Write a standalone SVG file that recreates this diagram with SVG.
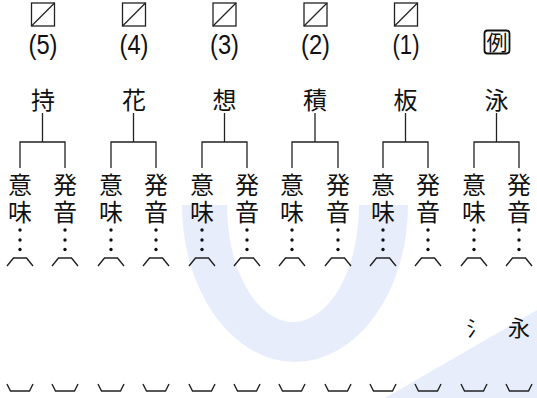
<svg xmlns="http://www.w3.org/2000/svg" width="537" height="398" viewBox="0 0 537 398">
<style>
.wm{fill:#e8edfb;stroke:none}
.num{font-family:"Liberation Sans",Arial,sans-serif;font-size:27px;fill:#111;text-anchor:middle}
.kj{font-family:"Noto Sans CJK JP",sans-serif;font-size:24px;fill:#111;text-anchor:middle}
.v{font-family:"Noto Sans CJK JP",sans-serif;font-size:24px;fill:#111;writing-mode:vertical-rl;text-anchor:start;letter-spacing:3px}
.ln{fill:none;stroke:#222;stroke-width:1.3}
.br{fill:none;stroke:#222;stroke-width:1.4;stroke-linejoin:miter}
.dot{fill:#111}
</style>
<defs>
<g id="box"><rect x="-11.5" y="0" width="23" height="23" class="ln"/><line x1="-11.5" y1="23" x2="11.5" y2="0" class="ln"/></g>
<g id="topbr"><path d="M-13,266 L-6.5,258 L6.5,258 L13,266" class="br"/></g>
<g id="botbr"><path d="M-13,384 L-9.5,391 L9.5,391 L13,384" class="br"/></g>
<g id="dots"><circle cx="0" cy="230" r="1.7" class="dot"/><circle cx="0" cy="240" r="1.7" class="dot"/><circle cx="0" cy="249.5" r="1.7" class="dot"/></g>
</defs>
<g id="watermark">
<path class="wm" d="M182,205 A113,157 0 0 0 408,205 L359,205 A66,117 0 0 1 227,205 Z"/>
<path class="wm" d="M385,398 L537,310 L537,398 Z"/>
</g>
<g id="connectors">
<path class="ln" d="M42.5,113 V142 M20,168 V142 H65 V168"/>
<path class="ln" d="M133.5,113 V142 M111,168 V142 H156 V168"/>
<path class="ln" d="M224.5,113 V142 M202,168 V142 H247 V168"/>
<path class="ln" d="M315,113 V142 M292,168 V142 H338 V168"/>
<path class="ln" d="M405.5,113 V142 M383,168 V142 H428 V168"/>
<path class="ln" d="M496.5,113 V142 M474,168 V142 H519 V168"/>
</g>
<g id="q5">
<use href="#box" x="43" y="3"/>
<text class="num" x="43" y="54" textLength="29" lengthAdjust="spacingAndGlyphs">(5)</text>
<text class="kj" x="43" y="109">持</text>
<text class="v" x="20" y="173">意味</text>
<text class="v" x="65" y="173">発音</text>
<use href="#dots" x="20"/><use href="#dots" x="65"/>
<use href="#topbr" x="20"/><use href="#topbr" x="65"/>
<use href="#botbr" x="20"/><use href="#botbr" x="65"/>
</g>
<g id="q4">
<use href="#box" x="134" y="3"/>
<text class="num" x="134" y="54" textLength="29" lengthAdjust="spacingAndGlyphs">(4)</text>
<text class="kj" x="134" y="109">花</text>
<text class="v" x="111" y="173">意味</text>
<text class="v" x="156" y="173">発音</text>
<use href="#dots" x="111"/><use href="#dots" x="156"/>
<use href="#topbr" x="111"/><use href="#topbr" x="156"/>
<use href="#botbr" x="111"/><use href="#botbr" x="156"/>
</g>
<g id="q3">
<use href="#box" x="224.5" y="3"/>
<text class="num" x="224.5" y="54" textLength="29" lengthAdjust="spacingAndGlyphs">(3)</text>
<text class="kj" x="224.5" y="109">想</text>
<text class="v" x="202" y="173">意味</text>
<text class="v" x="247" y="173">発音</text>
<use href="#dots" x="202"/><use href="#dots" x="247"/>
<use href="#topbr" x="202"/><use href="#topbr" x="247"/>
<use href="#botbr" x="202"/><use href="#botbr" x="247"/>
</g>
<g id="q2">
<use href="#box" x="315.5" y="3"/>
<text class="num" x="315.5" y="54" textLength="29" lengthAdjust="spacingAndGlyphs">(2)</text>
<text class="kj" x="315" y="109">積</text>
<text class="v" x="292" y="173">意味</text>
<text class="v" x="338" y="173">発音</text>
<use href="#dots" x="292"/><use href="#dots" x="338"/>
<use href="#topbr" x="292"/><use href="#topbr" x="338"/>
<use href="#botbr" x="292"/><use href="#botbr" x="338"/>
</g>
<g id="q1">
<use href="#box" x="406" y="3"/>
<text class="num" x="406" y="54" textLength="27" lengthAdjust="spacingAndGlyphs">(1)</text>
<text class="kj" x="405.5" y="109">板</text>
<text class="v" x="383" y="173">意味</text>
<text class="v" x="428" y="173">発音</text>
<use href="#dots" x="383"/><use href="#dots" x="428"/>
<use href="#topbr" x="383"/><use href="#topbr" x="428"/>
<use href="#botbr" x="383"/><use href="#botbr" x="428"/>
</g>
<g id="example">
<rect x="484.5" y="30.5" width="25" height="23" rx="3" fill="none" stroke="#111" stroke-width="1.8"/>
<text class="kj" x="497" y="50" style="font-size:21px">例</text>
<text class="kj" x="496.5" y="109">泳</text>
<text class="v" x="474" y="173">意味</text>
<text class="v" x="519" y="173">発音</text>
<use href="#dots" x="474"/><use href="#dots" x="519"/>
<use href="#topbr" x="474"/><use href="#topbr" x="519"/>
<use href="#botbr" x="474"/><use href="#botbr" x="519"/>
<text class="kj" x="477" y="336" style="font-size:21px">氵</text>
<text class="kj" x="519" y="336" style="font-size:22px">永</text>
</g>
</svg>
